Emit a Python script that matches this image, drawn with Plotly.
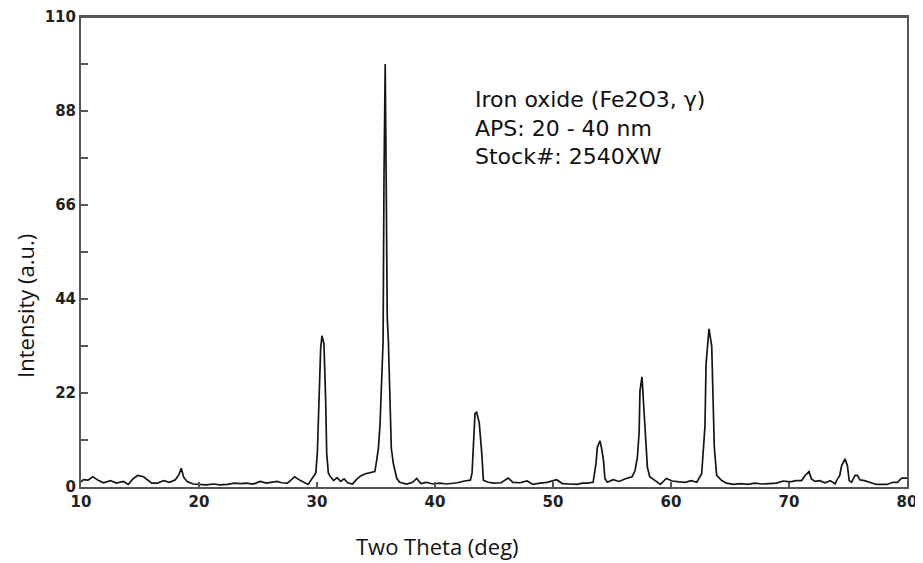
import plotly.graph_objects as go

# ---- data (2-theta in degrees, intensity in a.u.) ----
two_theta = [
    10.0, 10.2, 10.6, 11.0, 11.5, 11.9, 12.5, 13.0, 13.6, 14.0, 14.4, 14.8, 15.3, 15.6, 16.0, 16.5, 17.0, 17.5, 18.0, 18.3, 18.5, 18.7, 19.0, 19.5,
    20.0, 20.6, 21.2, 21.8, 22.4, 23.0, 23.5, 24.0, 24.6, 25.2, 25.7, 26.1, 26.6, 27.0, 27.5, 28.1, 28.6, 29.25, 29.7, 29.9,
    30.03, 30.17, 30.31, 30.42, 30.5, 30.59, 30.74, 30.82, 30.96, 31.1,
    31.4, 31.7, 32.0, 32.3, 32.6, 33.0, 33.4, 33.7, 34.1, 34.5, 34.9,
    35.06, 35.2, 35.34, 35.5, 35.6, 35.68, 35.78, 35.86, 35.95, 36.05, 36.2, 36.3, 36.47, 36.75, 37.0,
    37.6, 38.1, 38.45, 38.8, 39.3, 39.8, 40.4, 41.0, 41.5, 41.9, 42.5, 43.0,
    43.14, 43.25, 43.39, 43.53, 43.65, 43.75, 43.96, 44.1,
    44.5, 45.0, 45.6, 46.2, 46.6, 47.2, 47.8, 48.3, 48.9, 49.5, 50.3, 50.8, 51.4, 52.0, 52.5, 52.9, 53.4,
    53.64, 53.76, 53.98, 54.1, 54.27, 54.4, 54.6,
    55.1, 55.6, 56.2, 56.7,
    56.95, 57.15, 57.3, 57.37, 57.54, 57.7, 57.86, 58.0, 58.2, 58.6,
    59.1, 59.6, 60.1, 60.7, 61.2, 61.7, 62.18,
    62.6, 62.74, 62.88, 62.97, 63.1, 63.22, 63.45, 63.59, 63.67, 63.87, 64.3,
    64.7, 65.3, 65.9, 66.5, 67.1, 67.7, 68.3, 68.95, 69.5, 70.1, 70.6,
    71.07, 71.36, 71.7, 71.9, 72.2, 72.6, 73.05, 73.5, 73.9,
    74.03, 74.3, 74.46, 74.75, 74.95, 75.1, 75.3, 75.6, 75.8, 76.0, 76.4,
    76.9, 77.4, 77.9, 78.3, 78.8, 79.2, 79.55, 80.0,
]
intensity = [
    1.2, 1.7, 1.6, 2.4, 1.5, 1.0, 1.5, 0.9, 1.3, 0.6, 1.9, 2.7, 2.4, 1.7, 0.9, 0.9, 1.5, 1.1, 1.7, 2.9, 4.4, 2.3, 1.3, 0.7,
    0.6, 0.5, 0.7, 0.5, 0.6, 0.9, 0.8, 0.9, 0.7, 1.3, 0.9, 1.1, 1.3, 1.0, 0.9, 2.4, 1.5, 0.6, 2.3, 3.3,
    8.0, 18.4, 32.4, 35.4, 34.0, 33.5, 19.8, 8.0, 3.3, 2.6,
    1.5, 2.2, 1.3, 1.9, 1.0, 0.7, 1.9, 2.6, 3.1, 3.4, 3.6,
    6.3, 9.0, 14.5, 28.0, 34.0, 73.0, 99.0, 73.0, 40.0, 34.0, 14.5, 9.0, 5.5, 2.1, 1.1,
    0.7, 1.1, 2.0, 0.8, 1.1, 0.7, 0.9, 0.7, 0.8, 1.0, 1.4, 1.6,
    3.3, 11.4, 17.2, 17.5, 16.0, 15.0, 8.0, 1.6,
    1.1, 0.9, 1.0, 2.1, 1.1, 1.0, 1.4, 0.6, 0.9, 1.1, 1.7, 0.8, 0.7, 0.6, 0.9, 0.9, 1.1,
    5.4, 9.3, 10.8, 9.3, 6.4, 2.0, 1.1,
    1.7, 1.3, 2.0, 2.4,
    3.8, 6.9, 12.8, 22.5, 25.8, 18.0, 10.8, 4.6, 2.4, 1.5,
    0.6, 2.0, 1.4, 1.2, 1.1, 1.5, 1.1,
    3.1, 8.5, 14.3, 28.8, 34.0, 37.0, 33.0, 20.2, 9.3, 2.7, 1.5,
    0.9, 0.6, 0.8, 0.6, 0.9, 0.7, 0.8, 0.9, 1.4, 1.2, 1.5,
    1.5, 2.7, 3.6, 1.9, 1.3, 1.5, 1.0, 1.5, 0.7,
    1.5, 2.7, 5.0, 6.6, 5.0, 1.5, 1.1, 2.7, 2.7, 1.7, 1.5,
    1.1, 0.6, 0.6, 0.6, 1.1, 1.1, 2.1, 2.1,
]

x_ticks = [10, 20, 30, 40, 50, 60, 70, 80]
y_ticks = [0, 22, 44, 66, 88, 110]

label_lines = ["Iron oxide (Fe2O3, γ)", "APS: 20 - 40 nm", "Stock#: 2540XW"]
x_title = "Two Theta (deg)"
y_title = "Intensity (a.u.)"

fig = go.Figure()
fig.add_trace(go.Scatter(
    x=two_theta, y=intensity, mode="lines",
    line=dict(color="#151515", width=1.7),
    showlegend=False, hoverinfo="skip",
))

axis_color = "#555555"
tick_font = dict(family="DejaVu Sans", size=15, color="#222222", weight="bold")
axis_common = dict(
    showline=True, linecolor=axis_color, linewidth=2, mirror=True,
    showgrid=False, zeroline=False, ticks="inside", tickcolor=axis_color,
    tickwidth=1.5, tickfont=tick_font, automargin=False,
    ticklabeloverflow="allow",
)

fig.update_xaxes(range=[10, 80], tickvals=x_ticks, ticklen=5, **axis_common)
fig.update_yaxes(range=[0, 110], tickvals=y_ticks, ticklen=7,
                 minor=dict(dtick=11, tick0=0, ticks="inside", ticklen=7,
                            tickcolor=axis_color, tickwidth=1.5, showgrid=False),
                 **axis_common)

# top border of the frame
fig.add_shape(type="line", xref="paper", yref="paper", x0=0, x1=1, y0=1, y1=1,
              line=dict(color=axis_color, width=2), layer="above")

fig.add_annotation(
    x=43.2, y=94.0, xref="x", yref="y", xanchor="left", yanchor="top",
    text="<br>".join(label_lines), showarrow=False, align="left",
    font=dict(family="DejaVu Sans", size=22, color="#111111"),
)
fig.add_annotation(
    x=0.431, y=-0.125, xref="paper", yref="paper", xanchor="center", yanchor="middle",
    text=x_title, showarrow=False,
    font=dict(family="Open Sans", size=22, color="#111111"),
)
fig.add_annotation(
    x=-0.068, y=0.385, xref="paper", yref="paper", xanchor="center", yanchor="middle",
    text=y_title, showarrow=False, textangle=-90,
    font=dict(family="Open Sans", size=22, color="#111111"),
)

# page body has an 8px margin, so the figure is 915x555 placed at (8, 8)
fig.update_layout(
    width=915, height=555,
    margin=dict(l=73, r=16, t=9, b=76),
    paper_bgcolor="white", plot_bgcolor="white",
)

fig.write_html("out.html")
